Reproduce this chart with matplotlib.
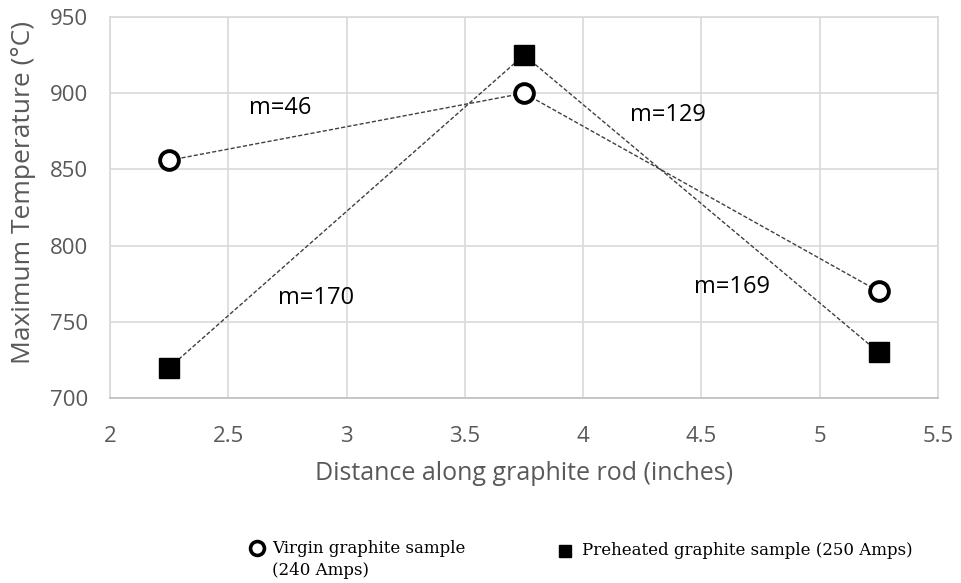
import matplotlib
matplotlib.use("Agg")
import matplotlib.pyplot as plt
from matplotlib.lines import Line2D

# Daten aus dem Diagramm
distance = [2.25, 3.75, 5.25]
virgin_temp = [856, 900, 770]
preheated_temp = [720, 925, 730]

slope_labels = ["m=46", "m=129", "m=170", "m=169"]
slope_pos = [(2.72, 890), (4.36, 886), (2.87, 766), (4.63, 773)]

x_ticks = [2, 2.5, 3, 3.5, 4, 4.5, 5, 5.5]
y_ticks = [700, 750, 800, 850, 900, 950]

legend_labels = [["Virgin graphite sample", "(240 Amps)"],
                 ["Preheated graphite sample (250 Amps)"]]

GRAY = "#595959"
GRID = "#d9d9d9"


def main():
    plt.rcParams["font.family"] = ["Open Sans", "DejaVu Sans"]
    fig = plt.figure(figsize=(9.61, 5.83), dpi=100)
    ax = fig.add_axes([0.1145, 0.317, 0.8615, 0.654])

    ax.plot(distance, virgin_temp, linestyle=(0, (3, 1.5)), color="#404040", lw=1.0,
            marker="o", markersize=13.5, markerfacecolor="white",
            markeredgecolor="black", markeredgewidth=2.8, zorder=3)
    ax.plot(distance, preheated_temp, linestyle=(0, (3, 1.5)), color="#404040", lw=1.0,
            marker="s", markersize=14, markerfacecolor="black",
            markeredgecolor="black", zorder=3)

    for label, (x, y) in zip(slope_labels, slope_pos):
        ax.text(x, y, label, ha="center", va="center", fontsize=17, color="black")

    ax.set_xlim(2, 5.5)
    ax.set_ylim(700, 950)
    ax.set_xticks(x_ticks)
    ax.set_xticklabels([f"{t:g}" for t in x_ticks])
    ax.set_yticks(y_ticks)
    ax.grid(True, color=GRID, lw=1.2)
    ax.set_axisbelow(True)
    ax.tick_params(length=0, labelsize=16, labelcolor=GRAY)
    ax.tick_params(axis="x", pad=20)
    ax.tick_params(axis="y", pad=16)
    for side in ["top", "right", "left"]:
        ax.spines[side].set_color(GRID)
        ax.spines[side].set_linewidth(1.2)
    ax.spines["bottom"].set_color("#bfbfbf")
    ax.spines["bottom"].set_linewidth(1.2)

    ax.set_xlabel("Distance along graphite rod (inches)", fontsize=18, color=GRAY, labelpad=10)
    ax.set_ylabel("Maximum Temperature (°C)", fontsize=19, color=GRAY)
    ax.yaxis.set_label_coords(-0.089, 0.54)

    # Legende von Hand, Marker auf Höhe der ersten Zeile
    serif = {"family": "DejaVu Serif", "size": 12}
    fig.add_artist(Line2D([0.2674], [0.060], transform=fig.transFigure, linestyle="none",
                          marker="o", markersize=10, markerfacecolor="white",
                          markeredgecolor="black", markeredgewidth=2.6))
    fig.text(0.283, 0.060, legend_labels[0][0], ha="left", va="center", fontdict=serif)
    fig.text(0.283, 0.022, legend_labels[0][1], ha="left", va="center", fontdict=serif)
    fig.add_artist(Line2D([0.588], [0.055], transform=fig.transFigure, linestyle="none",
                          marker="s", markersize=9, markerfacecolor="black",
                          markeredgecolor="black"))
    fig.text(0.6056, 0.055, legend_labels[1][0], ha="left", va="center", fontdict=serif)

    fig.savefig("out.png", dpi=100)
    plt.close(fig)


if __name__ == "__main__":
    main()
